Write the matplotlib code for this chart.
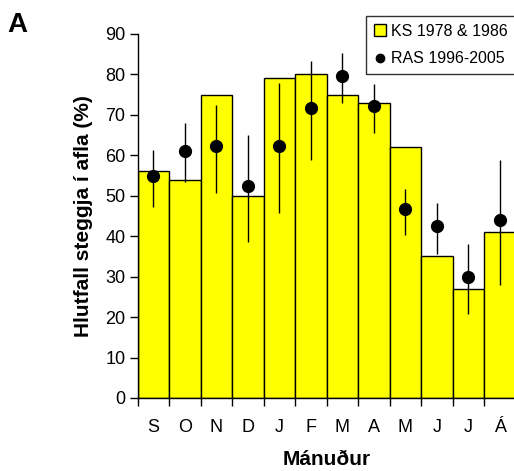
import numpy as np
import matplotlib.pyplot as plt
from matplotlib.lines import Line2D

plt.rcParams['font.family'] = ['Liberation Sans', 'DejaVu Sans']

months = ['S', 'O', 'N', 'D', 'J', 'F', 'M', 'A', 'M', 'J', 'J', 'Á']
ks_pct = [56, 54, 75, 50, 79, 80, 75, 73, 62, 35, 27, 41]
ras_pct = [54.8, 61.1, 62.2, 52.5, 62.2, 71.7, 79.5, 72.1, 46.8, 42.6, 29.8, 44.1]
ras_low = [47.2, 53.3, 50.6, 38.5, 45.7, 58.9, 73.0, 65.6, 40.4, 35.5, 20.8, 28.0]
ras_high = [61.2, 67.9, 72.5, 65.0, 77.8, 83.4, 85.2, 77.7, 51.7, 48.3, 38.1, 58.9]

fig = plt.figure(figsize=(5.14, 4.71), dpi=100)
ax = fig.add_axes([0.268, 0.155, 0.735, 0.773])

x = np.arange(len(months)) + 0.5
ax.bar(x, ks_pct, width=1.0, color='#ffff00', edgecolor='black', linewidth=1.0, zorder=1)

ras = np.array(ras_pct)
yerr = [ras - np.array(ras_low), np.array(ras_high) - ras]
ax.errorbar(x, ras, yerr=yerr, fmt='o', color='black', markersize=8.5,
            elinewidth=1.0, capsize=0, zorder=3)

ax.set_xlim(0, len(months))
ax.set_ylim(0, 90)
ax.set_yticks(np.arange(0, 91, 10))
ax.set_xticks(np.arange(len(months) + 1))
ax.set_xticklabels([])
ax.set_xticks(x, minor=True)
ax.set_xticklabels(months, minor=True)
ax.tick_params(axis='x', which='minor', length=0, pad=15, labelsize=13)
ax.tick_params(axis='x', which='major', length=6, width=1, direction='out')
ax.tick_params(axis='y', length=6, width=1, direction='out', labelsize=13, pad=3)

for side in ['top', 'right']:
    ax.spines[side].set_visible(False)
ax.spines['left'].set_linewidth(1.0)
ax.spines['bottom'].set_linewidth(1.0)

ax.set_ylabel('Hlutfall steggja í afla (%)', fontsize=15, fontweight='bold', labelpad=9)
ax.set_xlabel('Mánuður', fontsize=15, fontweight='bold', labelpad=10)

handles = [
    Line2D([], [], marker='s', linestyle='none', markerfacecolor='#ffff00',
           markeredgecolor='black', markersize=8.5, markeredgewidth=1.0),
    Line2D([], [], marker='o', linestyle='none', color='black', markersize=6),
]
leg = ax.legend(handles, ['KS 1978 & 1986', 'RAS 1996-2005'], loc='upper right',
                bbox_to_anchor=(1.0, 1.05), fontsize=11.5, frameon=True, fancybox=False,
                edgecolor='black', handlelength=0.7, handletextpad=0.35,
                borderpad=0.5, labelspacing=0.8, borderaxespad=0.0)
leg.get_frame().set_linewidth(1.0)
leg.set_zorder(5)

fig.text(0.015, 0.975, 'A', fontsize=20, fontweight='bold', va='top', ha='left')

fig.savefig('out.png', dpi=100)
